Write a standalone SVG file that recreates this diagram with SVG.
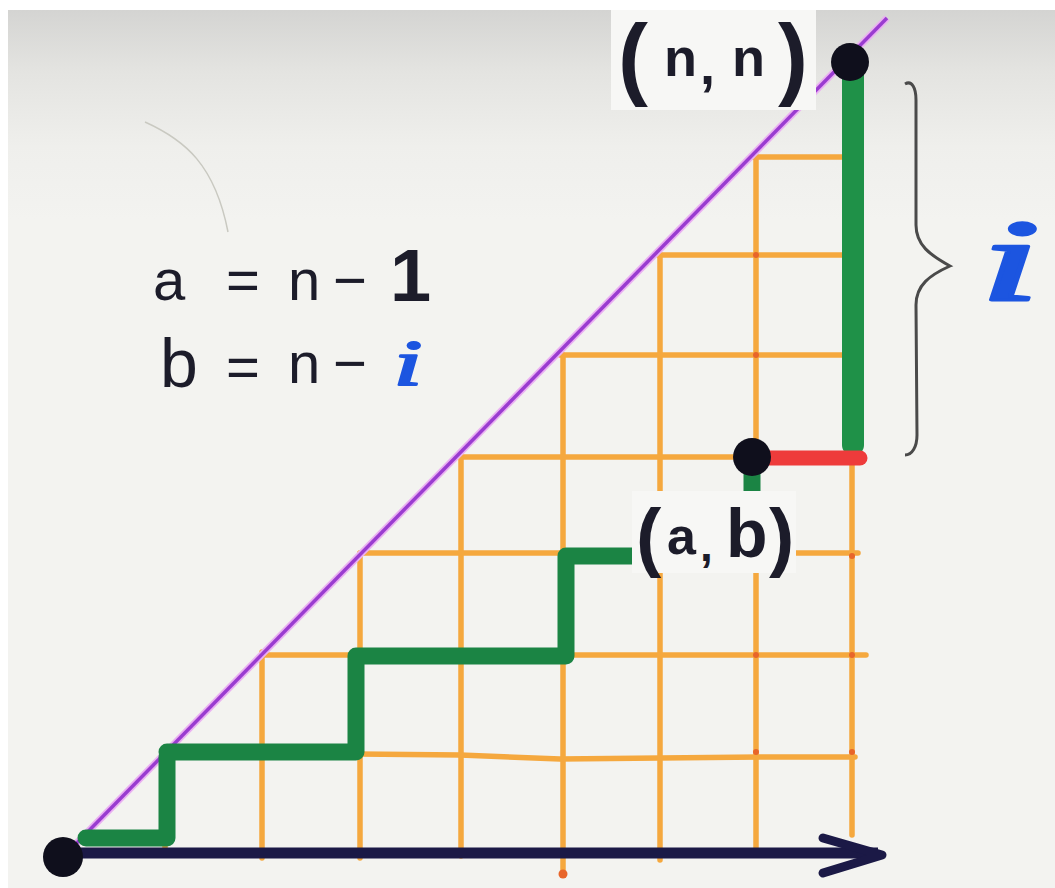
<svg xmlns="http://www.w3.org/2000/svg" width="1055" height="888" viewBox="0 0 1055 888">
<defs>
<linearGradient id="bg" gradientUnits="userSpaceOnUse" x1="0" y1="10" x2="0" y2="220">
<stop offset="0" stop-color="#d4d4d2"/>
<stop offset="0.3" stop-color="#e4e4e1"/>
<stop offset="0.65" stop-color="#efefec"/>
<stop offset="1" stop-color="#f3f3f0"/>
</linearGradient>
</defs>
<style>
.grid{stroke:#f5a83e;stroke-width:5.5;stroke-linecap:round;fill:none}
.tick{fill:#e8652a}
.green{stroke:#1b8444;stroke-width:17;stroke-linecap:round;stroke-linejoin:round;fill:none}
.dot{fill:#0f0f1c}
.hand{font-family:"Liberation Sans","DejaVu Sans",sans-serif;fill:#1c1c2a}
.blue{font-family:"Liberation Serif","DejaVu Serif",serif;font-style:italic;fill:#1c55e0;stroke:#1c55e0;stroke-linejoin:round}
.box{fill:#f7f7f5}
</style>
<g id="background">
<rect width="1055" height="888" fill="#ffffff"/>
<rect x="8" y="10" width="1047" height="878" fill="url(#bg)"/>
<path d="M145 122 C185 140 215 165 228 232" stroke="#c9c9c1" stroke-width="1.5" fill="none"/>
</g>
<g id="grid">
<path class="grid" d="M262 652 V858 M360 553 V858 M461 457 V856 M563 355 V870 M660 255 V860 M756 157 V855 M852 62 V835 M165 755 V850"/>
<path class="grid" d="M753 157 H853 M658 255 H855 M560 355 H858 M460 457 H745 M360 553 H858 M262 655 H866 M165 752 L460 755 L560 759 L760 757 H855"/>
<circle class="tick" cx="563" cy="874" r="4.5"/>
<circle class="tick" cx="852" cy="655" r="3"/>
<circle class="tick" cx="852" cy="752" r="3"/>
<circle class="tick" cx="756" cy="752" r="3"/>
<circle class="tick" cx="756" cy="655" r="3"/>
<circle class="tick" cx="756" cy="255" r="3"/>
<circle class="tick" cx="756" cy="355" r="3"/>
<circle class="tick" cx="852" cy="556" r="3"/>
</g>
<g id="diagonal">
<line x1="65" y1="855" x2="887" y2="18" stroke="#eab0f2" stroke-width="7"/>
<line x1="65" y1="855" x2="887" y2="18" stroke="#9a3cd0" stroke-width="3.5"/>
</g>
<g id="connectors">
<path id="path-green" class="green" d="M86 838 H167 V757 M167 752 H356 V656 H566 V556 H752 V470"/>
<path id="path-green-up" d="M853 62 V445" stroke="#1f9148" stroke-width="22" stroke-linecap="round" fill="none"/>
<path id="path-red" d="M762 458 H860" stroke="#ee3b3b" stroke-width="15" stroke-linecap="round" fill="none"/>
<g id="x-axis">
<path d="M80 853 H878" stroke="#1b1946" stroke-width="11" fill="none"/>
<path d="M823 838 L882 855 L823 873" stroke="#1b1946" stroke-width="9" stroke-linecap="round" stroke-linejoin="round" fill="none"/>
</g>
<path id="brace" d="M905 84 C912 80 916 88 916 100 L916 225 C916 245 930 255 950 266 C930 275 916 285 916 305 L917 435 C917 447 912 455 905 455" stroke="#4a4a4a" stroke-width="3" fill="none"/>
</g>
<g id="node-origin"><circle class="dot" cx="63" cy="857" r="20"/></g>
<g id="node-nn">
<circle class="dot" cx="850" cy="62" r="19"/>
<rect class="box" x="611" y="10" width="205" height="100"/>
<text class="hand" font-weight="bold"><tspan x="618" y="88" font-size="90">(</tspan><tspan x="664" y="76" font-size="54">n</tspan><tspan x="700" y="84" font-size="54">,</tspan><tspan x="732" y="76" font-size="54">n</tspan><tspan x="778" y="88" font-size="90">)</tspan></text>
</g>
<g id="node-ab">
<circle class="dot" cx="752" cy="457" r="19"/>
<rect class="box" x="632" y="491" width="164" height="82"/>
<text class="hand" font-weight="bold" fill="#1a1a40"><tspan x="636" y="562" font-size="76">(</tspan><tspan x="667" y="554" font-size="52">a</tspan><tspan x="700" y="561" font-size="46">,</tspan><tspan x="726" y="557" font-size="68">b</tspan><tspan x="769" y="562" font-size="76">)</tspan></text>
</g>
<g id="label-eq">
<text class="hand" font-size="58"><tspan x="153" y="300">a</tspan><tspan x="226" y="300">=</tspan><tspan x="288" y="300">n</tspan><tspan x="333" y="300">−</tspan><tspan x="390" y="301" font-size="74" font-weight="bold">1</tspan></text>
<text class="hand" font-size="58"><tspan x="160" y="387" font-size="68">b</tspan><tspan x="226" y="387">=</tspan><tspan x="288" y="383">n</tspan><tspan x="333" y="383">−</tspan></text>
<text class="blue" font-size="66" stroke-width="2" text-anchor="middle" transform="translate(408 385) scale(1.6 1)">i</text>
</g>
<g id="label-i">
<text class="blue" font-size="116" stroke-width="3" text-anchor="middle" transform="translate(1010 300) scale(1.9 1)">i</text>
</g>
</svg>
